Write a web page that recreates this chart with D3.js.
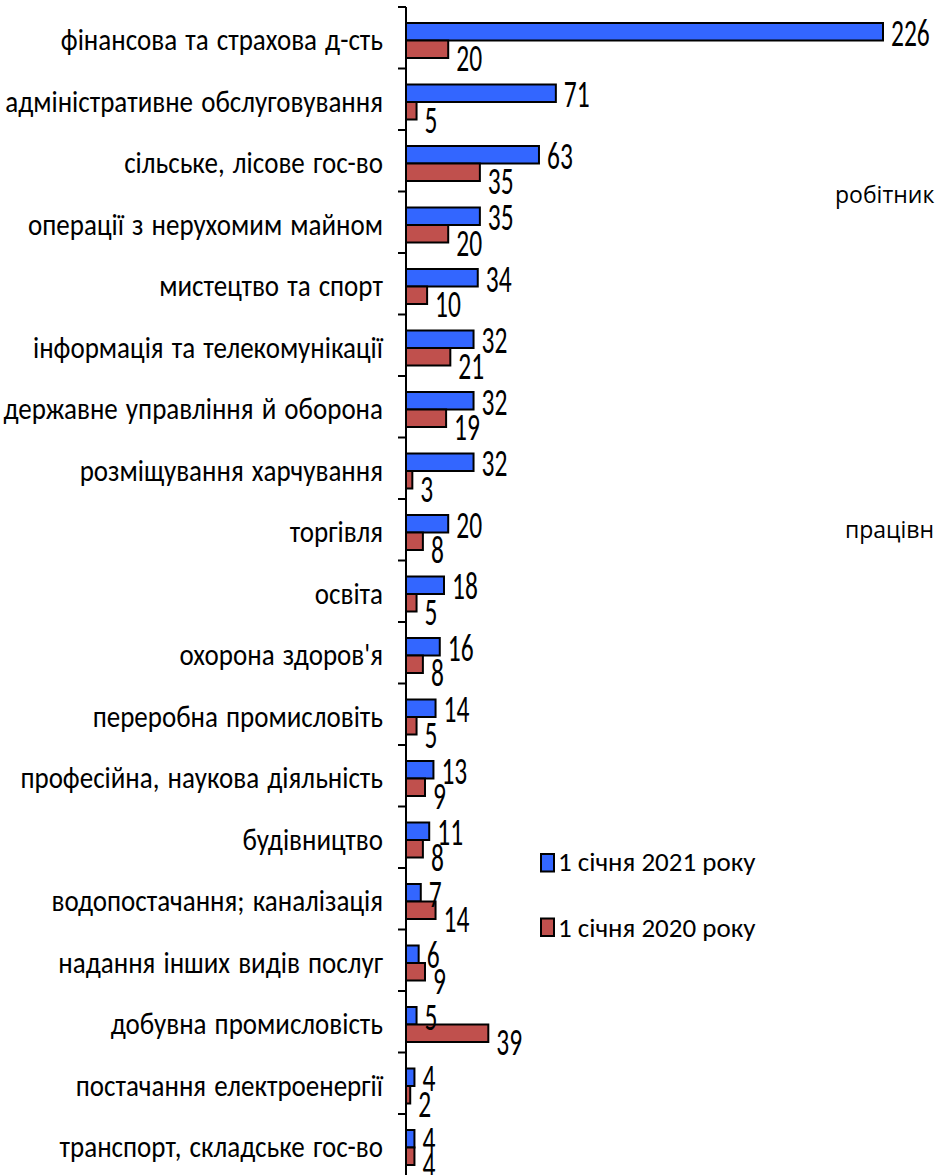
<!DOCTYPE html>
<html><head><meta charset="utf-8">
<script src="https://cdn.jsdelivr.net/npm/d3@7"></script>
<style>body{margin:0;background:#fff;overflow:hidden}svg{display:block}</style>
</head><body>
<script>
const categories = ["фінансова та страхова д-сть","адміністративне обслуговування","сільське, лісове гос-во","операції з нерухомим майном","мистецтво та спорт","інформація та телекомунікації","державне управління й оборона","розміщування харчування","торгівля","освіта","охорона здоров'я","переробна промисловіть","професійна, наукова діяльність","будівництво","водопостачання; каналізація","надання інших видів послуг","добувна промисловість","постачання електроенергії","транспорт, складське гос-во"];
const values2021 = [226,71,63,35,34,32,32,32,20,18,16,14,13,11,7,6,5,4,4];
const values2020 = [20,5,35,20,10,21,19,3,8,5,8,5,9,8,14,9,39,2,4];
const seriesNames = ["1 січня 2021 року","1 січня 2020 року"];
const strayTexts = ["робітник","працівн"];

const W=940,H=1175;
const svg=d3.select("body").append("svg").attr("width",W).attr("height",H);
const x=d3.scaleLinear().domain([0,d3.max(values2021)]).range([406,883]);
const y=d3.scaleBand().domain(categories).range([7,1175.5]);
const FONT="Carlito, Calibri, Lato, sans-serif";
const colors=["#3366ff","#c0504d"];
const series=[values2021,values2020];
const bh=17.5, off=16;

// bars
series.forEach((vals,s)=>{
  svg.append("g").selectAll("rect").data(categories).join("rect")
    .attr("x",x(0)).attr("y",d=>y(d)+off+s*bh)
    .attr("width",(d,i)=>x(vals[i])-x(0)).attr("height",bh)
    .attr("fill",colors[s]).attr("stroke","#000").attr("stroke-width",2);
});

// axis line and boundary ticks
svg.append("line").attr("x1",x(0)).attr("x2",x(0)).attr("y1",y.range()[0]).attr("y2",H)
  .attr("stroke","#000").attr("stroke-width",2);
svg.append("g").selectAll("line").data(categories).join("line")
  .attr("x1",x(0)-8).attr("x2",x(0)).attr("y1",d=>y(d)).attr("y2",d=>y(d))
  .attr("stroke","#000").attr("stroke-width",2);

// category labels
svg.append("g").selectAll("text").data(categories).join("text")
  .attr("transform",d=>`translate(383,${y(d)+43}) scale(1,1.1)`)
  .attr("text-anchor","end").attr("font-family",FONT).attr("font-size",27)
  .attr("word-spacing",2).attr("fill","#000").text(d=>d);

// value labels
const base=[38.5,64];
series.forEach((vals,s)=>{
  svg.append("g").selectAll("text").data(categories).join("text")
    .attr("transform",(d,i)=>`translate(${x(vals[i])+8},${y(d)+base[s]}) scale(1,1.5)`)
    .attr("font-family",FONT).attr("font-size",25.5).attr("fill","#000")
    .text((d,i)=>vals[i]);
});

// legend
const lg=svg.append("g");
seriesNames.forEach((s,i)=>{
  lg.append("rect").attr("x",541).attr("y",854+i*64.5).attr("width",13).attr("height",17.5)
    .attr("fill",colors[i]).attr("stroke","#000").attr("stroke-width",2);
  lg.append("text").attr("x",558).attr("y",870.5+i*66).attr("font-family",FONT)
    .attr("font-size",27).attr("fill","#000").text(s);
});

// clipped stray labels at right edge
svg.append("text").attr("x",835).attr("y",203).attr("font-family","'Open Sans'").attr("font-size",23).text(strayTexts[0]);
svg.append("text").attr("x",845).attr("y",538).attr("font-family","'Open Sans'").attr("font-size",23).text(strayTexts[1]);
</script>
</body></html>
